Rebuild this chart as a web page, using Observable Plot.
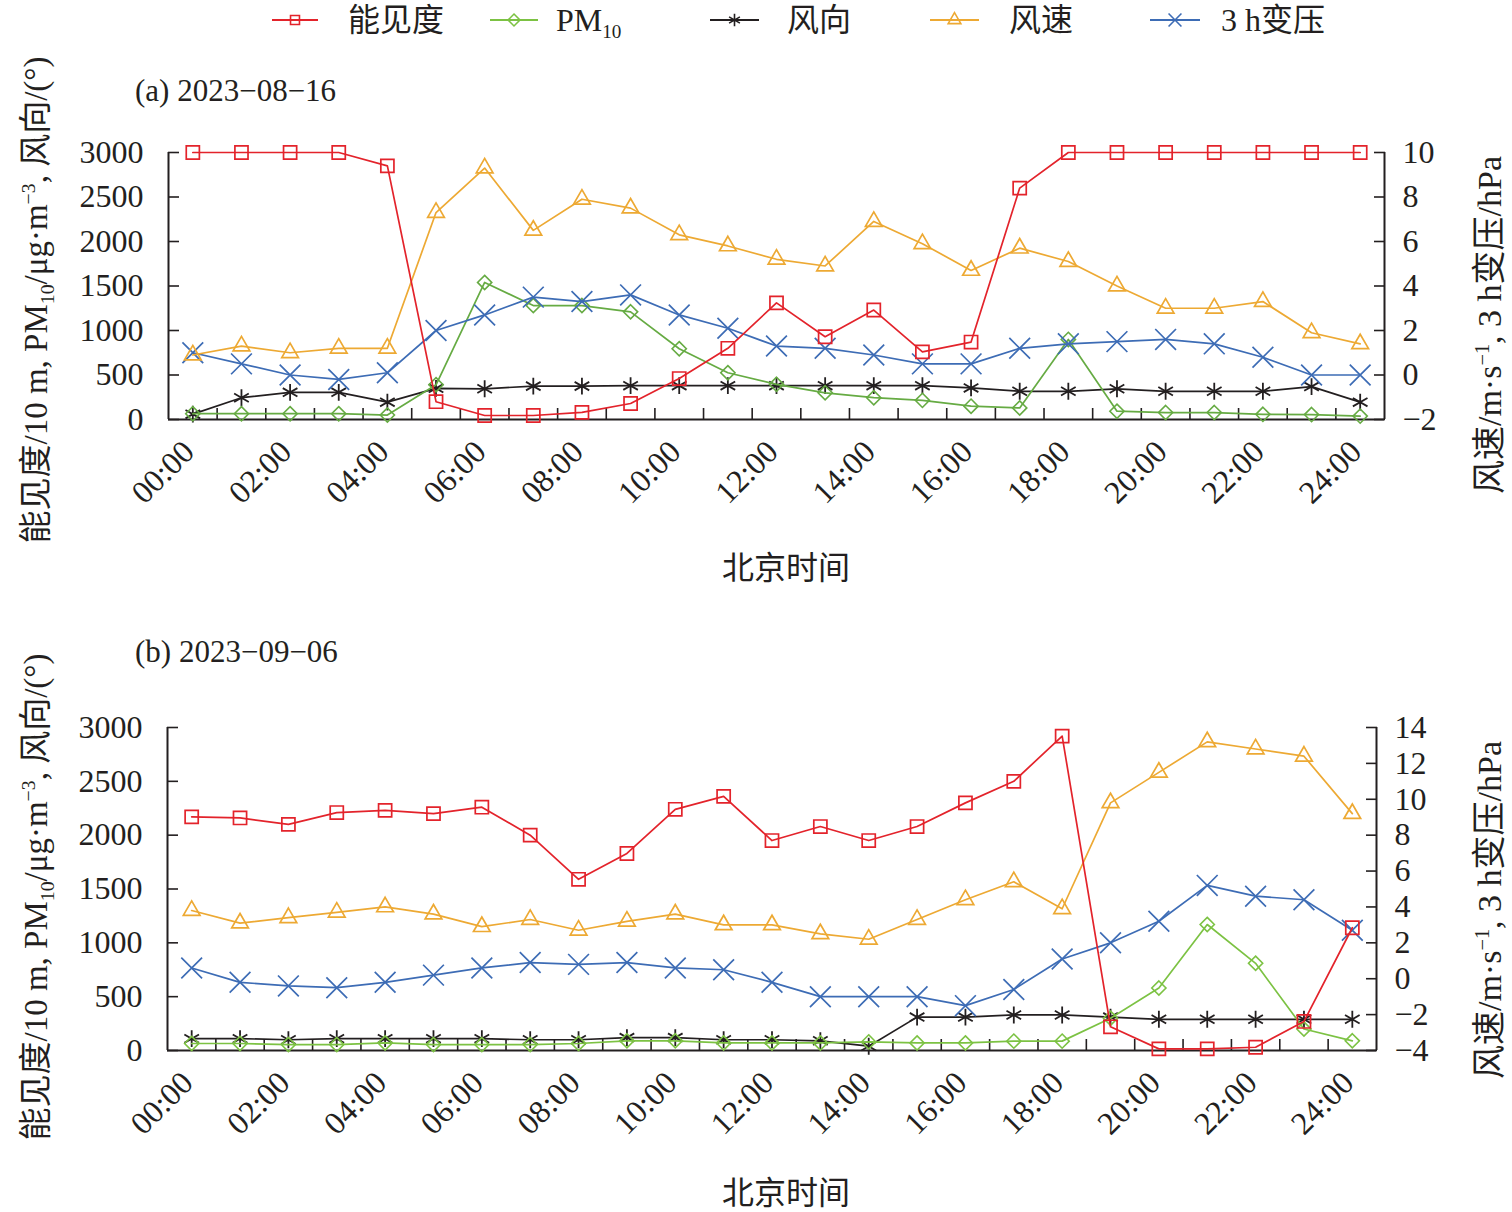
<!DOCTYPE html>
<html>
<head>
<meta charset="utf-8">
<script src="https://cdn.jsdelivr.net/npm/d3@7"></script>
<script src="https://cdn.jsdelivr.net/npm/@observablehq/plot@0.6"></script>
<style>
  body { margin: 0; background: #fff; }
  #root { position: relative; width: 1512px; height: 1212px; overflow: hidden;
          font-family: "Liberation Serif", "Times New Roman", "Noto Sans CJK SC", serif; color: #231f20; }
  .abs { position: absolute; white-space: nowrap; line-height: 1; }
  .panel { position: absolute; left: 0; }
  sub, sup { font-size: 60%; line-height: 0; }
</style>
</head>
<body>
<div id="root"></div>
<script>
// ---------- data ----------
const hours = [0,1,2,3,4,5,6,7,8,9,10,11,12,13,14,15,16,17,18,19,20,21,22,23,24];
const xTickHours = [0,2,4,6,8,10,12,14,16,18,20,22,24];
const xTickLabels = ["00:00","02:00","04:00","06:00","08:00","10:00","12:00","14:00","16:00","18:00","20:00","22:00","24:00"];
const minorTickHours = [0.5,1.5,2.5,3.5,4.5,5.5,6.5,7.5,8.5,9.5,10.5,11.5,12.5,13.5,14.5,15.5,16.5,17.5,18.5,19.5,20.5,21.5,22.5,23.5];
const leftTicks = [0,500,1000,1500,2000,2500,3000];
const rightTicksA = [-2,0,2,4,6,8,10];
const rightTicksB = [-4,-2,0,2,4,6,8,10,12,14];
const seriesNames = ["能见度","PM10","风向","风速","3 h变压"];

// (a) 2023-08-16
const visA  = [3000,3000,3000,3000,2850,200,45,45,80,180,460,800,1310,930,1230,760,870,2600,3000,3000,3000,3000,3000,3000,3000];
const pm10A = [65,65,65,65,50,390,1540,1280,1280,1210,795,525,395,300,245,215,150,130,900,93,78,78,58,55,38];
const wdA   = [60,245,305,305,195,350,345,375,375,380,380,380,380,380,380,380,355,317,317,345,317,317,317,370,195];
const wsA   = [0.9,1.3,1.0,1.2,1.2,7.3,9.3,6.5,7.9,7.5,6.3,5.8,5.2,4.9,6.9,5.9,4.7,5.7,5.1,4.0,3.0,3.0,3.3,1.9,1.4];
const dpA   = [1.0,0.5,0.0,-0.2,0.1,2.0,2.7,3.5,3.3,3.6,2.7,2.1,1.3,1.2,0.9,0.5,0.5,1.2,1.4,1.5,1.6,1.4,0.8,0.0,0.0];

// (b) 2023-09-06
const visB  = [2170,2160,2100,2210,2230,2200,2260,2000,1590,1830,2240,2360,1950,2080,1950,2080,2300,2500,2920,220,15,15,30,270,1140];
const pm10B = [65,65,55,55,70,55,55,55,65,90,90,70,70,70,80,70,70,87,87,300,580,1170,810,200,90];
const wdB   = [110,110,100,110,110,110,110,100,100,120,120,100,100,90,40,310,310,330,330,310,290,290,290,290,290];
const wsB   = [3.8,3.1,3.4,3.7,4.0,3.6,2.9,3.3,2.7,3.2,3.6,3.0,3.0,2.5,2.2,3.3,4.4,5.4,3.9,9.8,11.5,13.2,12.8,12.4,9.2];
const dpB   = [0.6,-0.2,-0.4,-0.5,-0.2,0.2,0.6,0.9,0.8,0.9,0.6,0.5,-0.2,-1.0,-1.0,-1.0,-1.5,-0.6,1.1,2.0,3.2,5.2,4.6,4.4,2.7];

// ---------- style ----------
const ink = "#231f20";
const C = { vis: "#e3232b", pmA: "#66ab43", pmB: "#7cc243", wd: "#231f20", ws: "#eda933", dp: "#3d6cb5" };
const FONT = '"Liberation Serif", "Times New Roman", "Noto Sans CJK SC", serif';
const root = document.getElementById("root");

function fmtNum(v) { const r = Math.round(v); return r < 0 ? "\u2212" + (-r) : String(r); }

function makePanel(cfg) {
  const span = cfg.rMax - cfg.rMin;
  const toLeft = v => (v - cfg.rMin) / span * 3000;
  const fromLeft = y => y / 3000 * span + cfg.rMin;
  const rows = hours.map((h, i) => ({
    h, vis: cfg.vis[i], pm: cfg.pm[i], wd: cfg.wd[i], ws: toLeft(cfg.ws[i]), dp: toLeft(cfg.dp[i])
  }));
  const rightPos = cfg.rightTicks.map(toLeft);
  const specs = [
    { y: "wd",  stroke: C.wd,        symbol: "asterisk", r: 8,   sw: 1.8 },
    { y: "pm",  stroke: cfg.pmColor, symbol: "diamond2", r: 6.4, sw: 1.6 },
    { y: "dp",  stroke: C.dp,        symbol: "times",    r: 9.5, sw: 1.7 },
    { y: "ws",  stroke: C.ws,        symbol: "triangle", r: 6.2, sw: 1.7 },
    { y: "vis", stroke: C.vis,       symbol: "square",   r: 7.4, sw: 1.7 }
  ];
  const marks = [
    Plot.ruleX([-0.5, 24.5], { stroke: ink, strokeWidth: 2 }),
    Plot.ruleY([0], { stroke: ink, strokeWidth: 2 }),
    // inward minor ticks between hours
    Plot.axisX(minorTickHours, { anchor: "bottom", tickSize: -11, stroke: ink, strokeWidth: 1.6,
      tickFormat: () => "", label: null }),
    // rotated hour labels
    Plot.axisX(xTickHours, { anchor: "bottom", tickSize: 0, tickPadding: 27, dx: -4, tickRotate: -45,
      fontSize: 32, fill: ink, label: null, tickFormat: d => xTickLabels[xTickHours.indexOf(d)] }),
    Plot.axisY(leftTicks, { anchor: "left", tickSize: -11, stroke: ink, strokeWidth: 1.6,
      tickFormat: () => "", label: null }),
    Plot.axisY(leftTicks, { anchor: "left", tickSize: 0, tickPadding: 25, fontSize: 32, fill: ink,
      label: null, tickFormat: d => String(d) }),
    Plot.axisY(rightPos, { anchor: "right", tickSize: -11, stroke: ink, strokeWidth: 1.6,
      tickFormat: () => "", label: null }),
    Plot.axisY(rightPos, { anchor: "right", tickSize: 0, tickPadding: 18, fontSize: 32, fill: ink,
      label: null, tickFormat: d => fmtNum(fromLeft(d)) })
  ];
  for (const s of specs) {
    marks.push(Plot.line(rows, { x: "h", y: s.y, stroke: s.stroke, strokeWidth: 1.7 }));
    marks.push(Plot.dot(rows, { x: "h", y: s.y, stroke: s.stroke, symbol: s.symbol, r: s.r,
      strokeWidth: s.sw, fill: "none" }));
  }
  const svg = Plot.plot({
    width: 1512, height: cfg.height,
    marginTop: cfg.mt, marginBottom: cfg.mb, marginLeft: cfg.ml, marginRight: cfg.mr,
    x: { type: "linear", domain: [-0.5, 24.5], label: null },
    y: { domain: [0, 3000], label: null },
    style: { fontFamily: FONT, fontSize: "32px", color: ink, background: "transparent", overflow: "visible" },
    marks
  });
  svg.classList.add("panel");
  svg.style.top = cfg.top + "px";
  root.appendChild(svg);
}

makePanel({ top: 0, height: 600, mt: 152, mb: 181, ml: 168, mr: 128,
  vis: visA, pm: pm10A, wd: wdA, ws: wsA, dp: dpA, rMin: -2, rMax: 10, rightTicks: rightTicksA, pmColor: C.pmA });
makePanel({ top: 600, height: 612, mt: 127, mb: 162, ml: 167, mr: 136,
  vis: visB, pm: pm10B, wd: wdB, ws: wsB, dp: dpB, rMin: -4, rMax: 14, rightTicks: rightTicksB, pmColor: C.pmB });

// ---------- text ----------
function label(html, x, y, mode, size) {
  const d = document.createElement("div");
  d.className = "abs";
  d.innerHTML = html;
  d.style.left = x + "px";
  d.style.top = y + "px";
  d.style.fontSize = (size || 32) + "px";
  if (mode === "left") d.style.transform = "translateY(-50%)";
  else if (mode === "center") d.style.transform = "translate(-50%,-50%)";
  else if (mode === "rot") d.style.transform = "translate(-50%,-50%) rotate(-90deg)";
  root.appendChild(d);
  return d;
}
const leftTitle = "能见度/10 m, PM<sub>10</sub>/μg·m<sup>\u22123</sup>, 风向/(°)";
const rightTitle = "风速/m·s<sup>\u22121</sup>, 3 h变压/hPa";

label("(a) 2023\u221208\u221216", 135, 90, "left", 31);
label("(b) 2023\u221209\u221206", 135, 651, "left", 31);
label("北京时间", 786, 568, "center", 32);
label("北京时间", 786, 1193, "center", 32);
label(leftTitle, 36, 300, "rot", 33);
label(leftTitle, 36, 897, "rot", 33);
label(rightTitle, 1490, 325, "rot", 34);
label(rightTitle, 1490, 910, "rot", 34);

// ---------- legend ----------
const legendSpecs = [
  { color: C.vis,  type: d3.symbolSquare,   size: 80, x0: 272,  x1: 318,  tx: 348 },
  { color: C.pmB,  type: d3.symbolDiamond2, size: 90, x0: 490,  x1: 538,  tx: 556 },
  { color: C.wd,   type: d3.symbolAsterisk, size: 110, x0: 710, x1: 759,  tx: 787 },
  { color: C.ws,   type: d3.symbolTriangle, size: 70, x0: 930,  x1: 979,  tx: 1009 },
  { color: C.dp,   type: d3.symbolTimes,    size: 110, x0: 1150, x1: 1200, tx: 1221 }
];
const ly = 20;
const ns = "http://www.w3.org/2000/svg";
const lsvg = document.createElementNS(ns, "svg");
lsvg.setAttribute("width", 1512); lsvg.setAttribute("height", 40);
lsvg.style.position = "absolute"; lsvg.style.left = "0px"; lsvg.style.top = "0px";
legendSpecs.forEach((s, i) => {
  const ln = document.createElementNS(ns, "line");
  ln.setAttribute("x1", s.x0); ln.setAttribute("x2", s.x1);
  ln.setAttribute("y1", ly); ln.setAttribute("y2", ly);
  ln.setAttribute("stroke", s.color); ln.setAttribute("stroke-width", 2);
  lsvg.appendChild(ln);
  const p = document.createElementNS(ns, "path");
  p.setAttribute("d", d3.symbol(s.type, s.size)());
  p.setAttribute("transform", `translate(${(s.x0 + s.x1) / 2},${ly})`);
  p.setAttribute("fill", "none"); p.setAttribute("stroke", s.color); p.setAttribute("stroke-width", 1.6);
  lsvg.appendChild(p);
  const name = seriesNames[i] === "PM10" ? "PM<sub>10</sub>" : seriesNames[i];
  label(name, s.tx, ly, "left", 32);
});
root.appendChild(lsvg);
</script>
</body>
</html>
